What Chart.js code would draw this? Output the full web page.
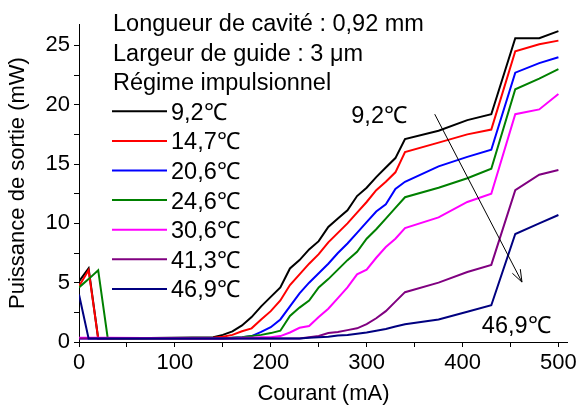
<!DOCTYPE html>
<html>
<head>
<meta charset="utf-8">
<script src="https://cdn.jsdelivr.net/npm/chart.js@4/dist/chart.umd.min.js"></script>
<style>
body { margin: 0; background: #fff; }
#wrap { width: 580px; height: 407px; }
</style>
</head>
<body>
<div id="wrap"><canvas id="graph" width="580" height="407"></canvas></div>
<script>
// courant (mA)
const current = [0, 10, 20, 30, 140, 150, 160, 170, 180, 190, 200, 210, 220, 230, 240, 250, 260, 270, 280, 290,
    300, 310, 320, 330, 340, 375, 405, 430, 455, 480, 500];

// puissance de sortie (mW) par température
const p9_2 = [5.1, 6.2, 0.3, 0.3, 0.4, 0.6, 0.9, 1.4, 2.1, 3.0, 3.8, 4.6, 6.2, 6.9, 7.8, 8.5, 9.7, 10.4, 11.1, 12.3,
    13.0, 13.9, 14.7, 15.5, 17.1, 17.8, 18.7, 19.2, 25.6, 25.6, 26.2];
const p14_7 = [4.7, 6.05, 0.3, 0.3, 0.35, 0.45, 0.6, 0.9, 1.15, 1.9, 2.6, 3.5, 4.8, 5.7, 6.6, 7.4, 8.4, 9.2, 10.0, 10.9,
    11.8, 12.8, 13.5, 14.3, 16.0, 16.8, 17.5, 17.9, 24.5, 25.1, 25.4];
const p20_6 = [0.3, 0.3, 0.3, 0.3, 0.3, 0.3, 0.35, 0.4, 0.5, 0.85, 1.25, 1.9, 3.0, 4.1, 5.0, 5.8, 6.6, 7.5, 8.3, 9.2,
    10.1, 11.0, 11.6, 12.9, 13.5, 14.8, 15.6, 16.2, 22.7, 23.5, 24.0];
const p24_6 = [4.6, 5.3, 6.05, 0.3, 0.3, 0.3, 0.35, 0.4, 0.5, 0.6, 0.75, 0.95, 2.2, 2.9, 3.5, 4.6, 5.3, 6.1, 6.9, 7.6,
    8.7, 9.5, 10.4, 11.3, 12.2, 13.0, 13.8, 14.6, 21.3, 22.2, 23.0];
const p30_6 = [0.35, 0.35, 0.35, 0.35, 0.3, 0.3, 0.3, 0.35, 0.35, 0.4, 0.4, 0.5, 0.8, 1.2, 1.35, 2.1, 2.8, 3.7, 4.6, 5.7,
    6.1, 7.1, 8.0, 8.7, 9.6, 10.5, 11.8, 12.5, 19.2, 19.6, 20.9];
const p41_3 = [0.3, 0.3, 0.3, 0.3, 0.3, 0.3, 0.3, 0.3, 0.3, 0.3, 0.3, 0.3, 0.3, 0.3, 0.4, 0.5, 0.75, 0.85, 1.0, 1.15,
    1.5, 2.0, 2.6, 3.4, 4.2, 5.0, 5.9, 6.5, 12.8, 14.1, 14.5];
const p46_9 = [4.0, 0.3, 0.3, 0.3, 0.3, 0.3, 0.3, 0.3, 0.3, 0.3, 0.3, 0.3, 0.3, 0.3, 0.35, 0.4, 0.45, 0.55, 0.6, 0.7,
    0.8, 0.95, 1.1, 1.3, 1.5, 1.9, 2.55, 3.1, 9.1, 10.0, 10.7];

const series = [p9_2, p14_7, p20_6, p24_6, p30_6, p41_3, p46_9];
const tempLabels = ['9,2℃', '14,7℃', '20,6℃', '24,6℃', '30,6℃', '41,3℃', '46,9℃'];
const colors = ['#000000', '#ff0000', '#0000ff', '#008000', '#ff00ff', '#800080', '#000080'];

const infoLines = ['Longueur de cavité : 0,92 mm', 'Largeur de guide : 3 μm', 'Régime impulsionnel'];

// flèche 9,2℃ -> 46,9℃ (en unités du graphe)
const arrowFrom = {x: 371, y: 19.2};
const arrowTo = {x: 462, y: 5.05};
const arrowNotes = [
    {text: '9,2℃', x: 313, y: 19.15},
    {text: '46,9℃', x: 456, y: 1.5}
];

const FONT = '"Liberation Sans", Arial, sans-serif';

const textPlugin = {
    id: 'textPlugin',
    afterDraw(chart) {
        const c = chart.ctx;
        const xs = chart.scales.x, ys = chart.scales.y;
        c.save();
        c.fillStyle = '#000';
        c.font = '23.5px ' + FONT;
        c.textBaseline = 'alphabetic';
        c.textAlign = 'left';
        let row = 0;
        const rowY = i => 22.5 + 29.6 * i + 8.4;
        infoLines.forEach(t => { c.fillText(t, 113, rowY(row)); row++; });
        chart.data.datasets.forEach(ds => {
            const y = 22.5 + 29.6 * row;
            c.strokeStyle = ds.borderColor;
            c.lineWidth = 2;
            c.beginPath();
            c.moveTo(112, y);
            c.lineTo(167, y);
            c.stroke();
            c.fillText(ds.label, 171, rowY(row));
            row++;
        });

        // flèche
        const x1 = xs.getPixelForValue(arrowFrom.x), y1 = ys.getPixelForValue(arrowFrom.y);
        const x2 = xs.getPixelForValue(arrowTo.x), y2 = ys.getPixelForValue(arrowTo.y);
        c.strokeStyle = '#000';
        c.lineWidth = 1;
        c.beginPath();
        c.moveTo(x1, y1);
        c.lineTo(x2, y2);
        const a = Math.atan2(y2 - y1, x2 - x1);
        const h = 13;
        c.moveTo(x2 - h * Math.cos(a - 0.35), y2 - h * Math.sin(a - 0.35));
        c.lineTo(x2, y2);
        c.lineTo(x2 - h * Math.cos(a + 0.35), y2 - h * Math.sin(a + 0.35));
        c.stroke();

        c.textAlign = 'center';
        arrowNotes.forEach(n => {
            c.fillText(n.text, xs.getPixelForValue(n.x), ys.getPixelForValue(n.y) + 8.4);
        });
        c.restore();
    }
};

const ctx = document.getElementById('graph').getContext('2d');
const powerChart = new Chart(ctx, {
    type: 'line',
    data: {
        labels: current,
        datasets: series.map((s, i) => ({
            label: tempLabels[i],
            data: s.map((v, k) => ({x: current[k], y: v})),
            borderColor: colors[i],
            backgroundColor: colors[i],
            borderWidth: 2,
            pointRadius: 0,
            tension: 0,
            fill: false,
            order: series.length - i
        }))
    },
    options: {
        responsive: false,
        animation: false,
        layout: {padding: {top: 24, right: 12, left: 0, bottom: 0}},
        scales: {
            x: {
                type: 'linear',
                min: 0,
                max: 510,
                afterFit: s => { s.height = 65; },
                ticks: {
                    stepSize: 50,
                    includeBounds: false,
                    autoSkip: false,
                    maxRotation: 0,
                    color: '#000',
                    padding: 3,
                    font: {family: FONT, size: 22},
                    callback: v => (v % 100 === 0 ? v : '')
                },
                grid: {drawOnChartArea: false, drawTicks: true, tickLength: 5, color: '#000'},
                border: {display: true, color: '#000', width: 1},
                title: {
                    display: true,
                    text: 'Courant (mA)',
                    color: '#000',
                    font: {family: FONT, size: 22},
                    padding: {top: 0, bottom: 0}
                }
            },
            y: {
                min: 0,
                max: 26.8,
                afterFit: s => { s.width = 79; },
                ticks: {
                    stepSize: 2.5,
                    includeBounds: false,
                    autoSkip: false,
                    color: '#000',
                    padding: 4,
                    font: {family: FONT, size: 22},
                    callback: v => (v % 5 === 0 ? v : '')
                },
                grid: {drawOnChartArea: false, drawTicks: true, tickLength: 5, color: '#000'},
                border: {display: true, color: '#000', width: 1},
                title: {
                    display: true,
                    text: 'Puissance de sortie (mW)',
                    color: '#000',
                    font: {family: FONT, size: 22},
                    padding: {top: 5, bottom: 0}
                }
            }
        },
        plugins: {
            legend: {display: false},
            tooltip: {enabled: false}
        }
    },
    plugins: [textPlugin]
});
</script>
</body>
</html>
